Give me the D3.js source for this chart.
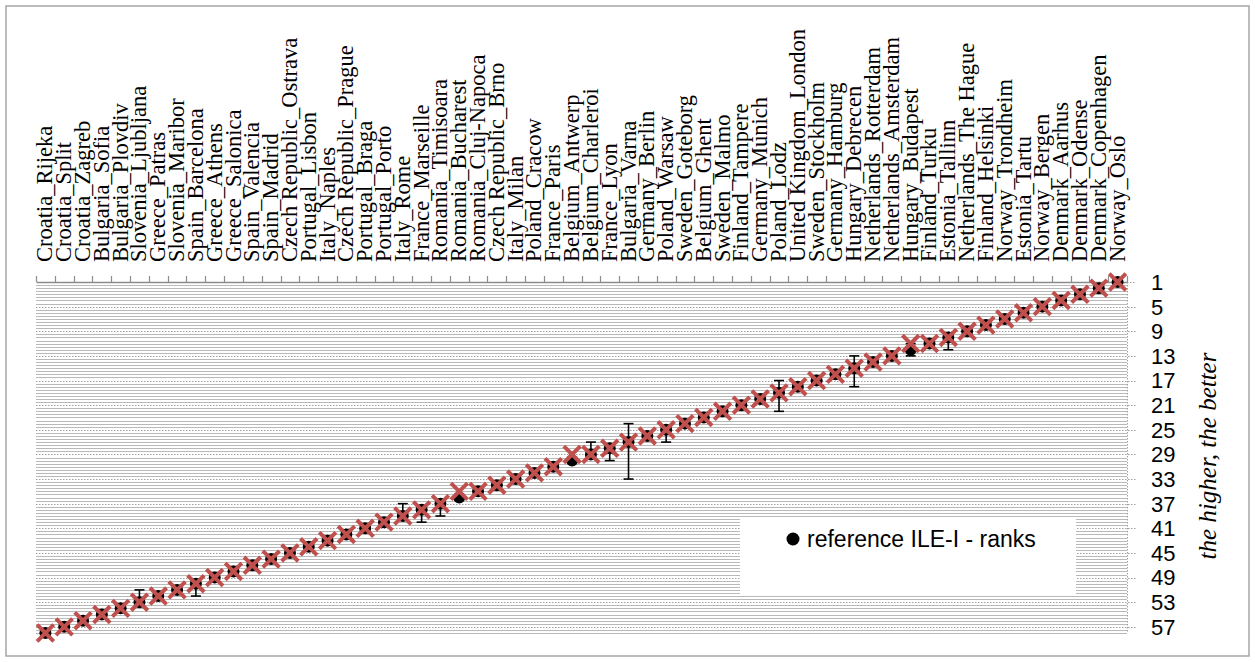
<!DOCTYPE html>
<html>
<head>
<meta charset="utf-8">
<script src="https://cdn.jsdelivr.net/npm/d3@7"></script>
<style>
  body { margin: 0; background: #fff; }
</style>
</head>
<body>
<div id="chart"></div>
<script>
"use strict"

let cities = [
  "Croatia_Rijeka", "Croatia_Split", "Croatia_Zagreb", "Bulgaria_Sofia", "Bulgaria_Plovdiv",
  "Slovenia_Ljubljana", "Greece_Patras", "Slovenia_Maribor", "Spain_Barcelona", "Greece_Athens",
  "Greece_Salonica", "Spain_Valencia", "Spain_Madrid", "Czech Republic_Ostrava", "Portugal_Lisbon",
  "Italy_Naples", "Czech Republic_Prague", "Portugal_Braga", "Portugal_Porto", "Italy_Rome",
  "France_Marseille", "Romania_Timisoara", "Romania_Bucharest", "Romania_Cluj-Napoca", "Czech Republic_Brno",
  "Italy_Milan", "Poland_Cracow", "France_Paris", "Belgium_Antwerp", "Belgium_Charleroi",
  "France_Lyon", "Bulgaria_Varna", "Germany_Berlin", "Poland_Warsaw", "Sweden_Goteborg",
  "Belgium_Ghent", "Sweden_Malmo", "Finland_Tampere", "Germany_Munich", "Poland_Lodz",
  "United Kingdom_London", "Sweden_Stockholm", "Germany_Hamburg", "Hungary_Debrecen", "Netherlands_Rotterdam",
  "Netherlands_Amsterdam", "Hungary_Budapest", "Finland_Turku", "Estonia_Tallinn", "Netherlands_The Hague",
  "Finland_Helsinki", "Norway_Trondheim", "Estonia_Tartu", "Norway_Bergen", "Denmark_Aarhus",
  "Denmark_Odense", "Denmark_Copenhagen", "Norway_Oslo"
];

// reference ILE-I ranks (black dots)
let refRanks = [
  58, 57, 56, 55, 54, 53, 52, 51, 50, 49,
  48, 47, 46, 45, 44, 43, 42, 41, 40, 39,
  38, 37, 36, 35, 34, 33, 32, 31, 30, 29,
  28, 27, 26, 25, 24, 23, 22, 21, 20, 19,
  18, 17, 16, 15, 14, 13, 12, 11, 10, 9,
  8, 7, 6, 5, 4, 3, 2, 1
];

// median ranks of the uncertainty runs (red crosses)
let medianRanks = [
  58, 57, 56, 55, 54, 53, 52, 51, 50, 49,
  48, 47, 46, 45, 44, 43, 42, 41, 40, 39,
  38, 37, 35, 35, 34, 33, 32, 31, 29, 29,
  28, 27, 26, 25, 24, 23, 22, 21, 20, 19,
  18, 17, 16, 15, 14, 13, 11, 11, 10, 9,
  8, 7, 6, 5, 4, 3, 2, 1
];

// rank intervals where they are wider than the cross
let errCities = ["Slovenia_Ljubljana", "Spain_Barcelona", "Italy_Rome", "France_Marseille",
  "Romania_Timisoara", "Belgium_Charleroi", "France_Lyon", "Bulgaria_Varna", "Poland_Warsaw",
  "Poland_Lodz", "Hungary_Debrecen", "Hungary_Budapest", "Estonia_Tallinn"];
let errBest  = [51, 50, 37, 38, 37, 27, 28, 24, 25, 17, 13, 11, 10];
let errWorst = [53, 52, 39, 40, 39, 29, 30, 33, 27, 22, 18, 13, 12];

let yTicks = [1, 5, 9, 13, 17, 21, 25, 29, 33, 37, 41, 45, 49, 53, 57];
let minorTicks = d3.range(1.5, 58.01, 0.5).filter(function(v) { return (v - 1) % 4 !== 0; });

let legendLabel = "reference ILE-I - ranks";
let yTitle = "the higher, the better";

let W = 1255, H = 662;
let plot = {left: 36, right: 1127, top: 282, bottom: 633};

let svg = d3.select("#chart")
            .append("svg")
            .attr("width", W)
            .attr("height", H);

// outer chart frame
svg.append("rect")
   .attr("x", 6).attr("y", 6)
   .attr("width", 1243).attr("height", 650)
   .style("fill", "#fff")
   .style("stroke", "#a6a6a6")
   .style("stroke-width", 1.5);

let x = d3.scaleBand()
          .domain(cities)
          .range([plot.left, plot.right])
          .padding(0);

let y = d3.scaleLinear()
          .domain([1, 58])
          .range([plot.top, plot.bottom]);

let cx = function(c) { return x(c) + x.bandwidth() / 2; };

// minor gridlines
svg.append("g")
   .selectAll("line")
   .data(minorTicks)
   .enter().append("line")
   .attr("x1", plot.left).attr("x2", plot.right)
   .attr("y1", function(d) { return Math.round(y(d)) + 0.5; })
   .attr("y2", function(d) { return Math.round(y(d)) + 0.5; })
   .style("stroke", "#b9b9b9")
   .style("stroke-width", 1.2);

// major gridlines (dotted), running out as ticks on the right
svg.append("g")
   .selectAll("line")
   .data(yTicks.slice(1))
   .enter().append("line")
   .attr("x1", plot.left).attr("x2", plot.right + 9)
   .attr("y1", function(d) { return Math.round(y(d)) + 0.5; })
   .attr("y2", function(d) { return Math.round(y(d)) + 0.5; })
   .style("stroke", "#a0a0a0")
   .style("stroke-width", 1)
   .style("stroke-dasharray", "1.5,1.5");

svg.append("line")
   .attr("x1", plot.right).attr("x2", plot.right + 9)
   .attr("y1", plot.top + 0.5).attr("y2", plot.top + 0.5)
   .style("stroke", "#a0a0a0")
   .style("stroke-dasharray", "1.5,1.5");

// right value axis (dotted line)
svg.append("line")
   .attr("x1", plot.right + 0.5).attr("x2", plot.right + 0.5)
   .attr("y1", plot.top).attr("y2", plot.bottom)
   .style("stroke", "#a0a0a0")
   .style("stroke-dasharray", "1.5,1.5");

// top category axis
let xAxis = d3.axisTop(x).tickSize(0).tickFormat("");
svg.append("g")
   .attr("transform", "translate(0," + plot.top + ")")
   .call(xAxis)
   .call(function(g) {
     g.select(".domain").style("stroke", "#8c8c8c").style("stroke-width", 1.5);
   });

let bounds = cities.map(function(c) { return x(c); }).concat([plot.right]);
svg.append("g")
   .selectAll("line")
   .data(bounds)
   .enter().append("line")
   .attr("x1", function(d) { return Math.round(d) + 0.5; })
   .attr("x2", function(d) { return Math.round(d) + 0.5; })
   .attr("y1", plot.top).attr("y2", plot.top - 6)
   .style("stroke", "#8c8c8c")
   .style("stroke-width", 1.2);

svg.append("g")
   .selectAll("text")
   .data(cities)
   .enter().append("text")
   .attr("transform", function(d) { return "translate(" + (cx(d) + 7) + "," + 262 + ") rotate(-90)"; })
   .style("font-family", "'Liberation Serif', 'Times New Roman', serif")
   .style("font-size", "22.5px")
   .style("fill", "#000")
   .text(function(d) { return d; });

// y tick labels on the right
svg.append("g")
   .selectAll("text")
   .data(yTicks)
   .enter().append("text")
   .attr("x", 1151)
   .attr("y", function(d) { return y(d); })
   .attr("dy", "0.36em")
   .style("font-family", "'Liberation Sans', Arial, sans-serif")
   .style("font-size", "22px")
   .style("fill", "#000")
   .text(function(d) { return d; });

svg.append("text")
   .attr("transform", "translate(1216,456) rotate(-90)")
   .attr("text-anchor", "middle")
   .style("font-family", "'Liberation Serif', 'Times New Roman', serif")
   .style("font-style", "italic")
   .style("font-size", "25px")
   .style("fill", "#000")
   .text(yTitle);

// legend box
svg.append("rect")
   .attr("x", 740).attr("y", 518)
   .attr("width", 336).attr("height", 78)
   .style("fill", "#fff");

svg.append("circle")
   .attr("cx", 793).attr("cy", 539)
   .attr("r", 6.5)
   .style("fill", "#000");

svg.append("text")
   .attr("x", 807).attr("y", 547)
   .style("font-family", "'Liberation Sans', Arial, sans-serif")
   .style("font-size", "23px")
   .style("fill", "#000")
   .text(legendLabel);

// error bars
let errData = errCities.map(function(c, i) { return {city: c, best: errBest[i], worst: errWorst[i]}; });
let eb = svg.append("g").selectAll("g")
   .data(errData)
   .enter().append("g")
   .style("stroke", "#000")
   .style("stroke-width", 1.6);
eb.append("line")
  .attr("x1", function(d) { return cx(d.city); })
  .attr("x2", function(d) { return cx(d.city); })
  .attr("y1", function(d) { return y(d.best); })
  .attr("y2", function(d) { return y(d.worst); });
eb.append("line")
  .attr("x1", function(d) { return cx(d.city) - 5; })
  .attr("x2", function(d) { return cx(d.city) + 5; })
  .attr("y1", function(d) { return y(d.best); })
  .attr("y2", function(d) { return y(d.best); });
eb.append("line")
  .attr("x1", function(d) { return cx(d.city) - 5; })
  .attr("x2", function(d) { return cx(d.city) + 5; })
  .attr("y1", function(d) { return y(d.worst); })
  .attr("y2", function(d) { return y(d.worst); });

// reference ranks
svg.append("g")
   .selectAll("circle")
   .data(cities)
   .enter().append("circle")
   .attr("cx", function(d) { return cx(d); })
   .attr("cy", function(d, i) { return y(refRanks[i]); })
   .attr("r", 6)
   .style("fill", "#000");

// median ranks as red crosses
let s = 8.3;
svg.append("g")
   .selectAll("path")
   .data(cities)
   .enter().append("path")
   .attr("transform", function(d, i) { return "translate(" + cx(d) + "," + y(medianRanks[i]) + ")"; })
   .attr("d", "M" + (-s) + "," + (-s) + "L" + s + "," + s + "M" + (-s) + "," + s + "L" + s + "," + (-s))
   .style("fill", "none")
   .style("stroke", "#c0504d")
   .style("stroke-width", 4);
</script>
</body>
</html>
